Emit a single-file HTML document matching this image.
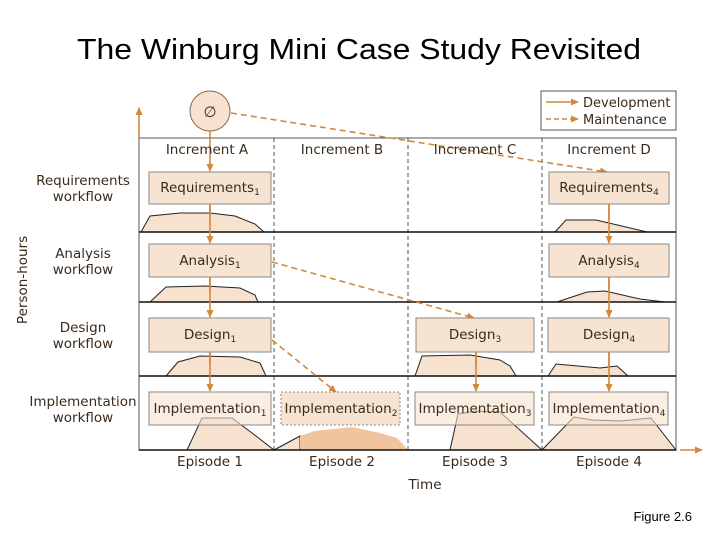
<!DOCTYPE html>
<html><head><meta charset="utf-8"><style>
body{margin:0;background:#fff;width:720px;height:540px;overflow:hidden}
svg text{font-family:"DejaVu Sans","Liberation Sans",sans-serif;fill:#3a2a1a}
</style></head><body>
<svg width="720" height="540" viewBox="0 0 720 540" xmlns="http://www.w3.org/2000/svg">
<defs>
<marker id="ah" markerWidth="8" markerHeight="8" refX="7" refY="4" orient="auto" markerUnits="userSpaceOnUse"><path d="M0,0.5 L8,4 L0,7.5 Z" fill="#d4883a"/></marker>
</defs>
<text x="77" y="59" textLength="564" lengthAdjust="spacingAndGlyphs" style="font-family:'Liberation Sans',sans-serif;font-size:29px;fill:#000">The Winburg Mini Case Study Revisited</text>
<text x="692" y="521" text-anchor="end" style="font-family:'Liberation Sans',sans-serif;font-size:13px;fill:#000">Figure 2.6</text>

<!-- legend -->
<rect x="541" y="91" width="135" height="39" fill="#fff" stroke="#555"/>
<line x1="546" y1="102" x2="578" y2="102" stroke="#d4883a" stroke-width="1.6" marker-end="url(#ah)"/>
<line x1="546" y1="119" x2="578" y2="119" stroke="#d4883a" stroke-width="1.6" stroke-dasharray="5,3" marker-end="url(#ah)"/>
<text x="583" y="107" font-size="13">Development</text>
<text x="583" y="124" font-size="13">Maintenance</text>

<!-- frame -->
<rect x="139" y="138" width="537" height="312" fill="#fff" stroke="#555"/>
<g stroke="#555" stroke-dasharray="4,3"><line x1="274" y1="138" x2="274" y2="450"/><line x1="408" y1="138" x2="408" y2="450"/><line x1="542" y1="138" x2="542" y2="450"/></g>

<!-- curves -->
<g fill="#f7e1cf" stroke="#222" stroke-width="1">
<polygon points="141,232 150,216 180,213 210,213 235,216 255,224 264,232"/>
<polygon points="150,302 166,287 205,286 240,288 255,295 258,302"/>
<polygon points="166,376 178,362 200,356 240,357 260,363 266,376"/>
<polygon points="187,450 202,418 232,418 252,433 274,450"/>
<polygon points="415,376 422,356 470,355 500,360 510,366 516,376"/>
<polygon points="548,376 556,364 600,368 617,366 628,376"/>
<polygon points="557,302 587,292 605,291 640,299 665,302"/>
<polygon points="555,232 566,220 596,220 626,227 647,232"/>
<polygon points="274,450 300,436 300,450"/>
<polygon points="450,450 458,414 476,411 500,412 542,450"/>
<polygon points="542,450 574,417 592,420 620,421 651,418 676,450"/>
</g>
<path d="M300,450 L300,436 L315,431 L352,427 L380,433 L397,438 L408,450 Z" fill="#f0c49c"/>

<!-- row lines -->
<g stroke="#111" stroke-width="1.6"><line x1="139" y1="232" x2="676" y2="232"/><line x1="139" y1="302" x2="676" y2="302"/><line x1="139" y1="376" x2="676" y2="376"/><line x1="139" y1="450" x2="676" y2="450"/></g>

<!-- axes arrows -->
<line x1="139" y1="138" x2="139" y2="108" stroke="#d4883a" stroke-width="1.6" marker-end="url(#ah)"/>
<line x1="680" y1="450" x2="702" y2="450" stroke="#d4883a" stroke-width="1.6" marker-end="url(#ah)"/>

<!-- development arrows -->
<g stroke="#d4883a" stroke-width="1.6" marker-end="url(#ah)">
<line x1="210" y1="131" x2="210" y2="171"/>
<line x1="210" y1="204" x2="210" y2="243"/>
<line x1="210" y1="277" x2="210" y2="317"/>
<line x1="210" y1="352" x2="210" y2="391"/>
<line x1="476" y1="352" x2="476" y2="391"/>
<line x1="609" y1="204" x2="609" y2="243"/>
<line x1="609" y1="277" x2="609" y2="317"/>
<line x1="609" y1="352" x2="609" y2="391"/>
</g>
<g stroke="#d4883a" stroke-width="1.6" stroke-dasharray="6,4" marker-end="url(#ah)" fill="none">
<line x1="231" y1="113" x2="607" y2="172"/>
<line x1="272" y1="262" x2="474" y2="318"/>
<line x1="272" y1="340" x2="336" y2="392"/>
</g>

<!-- circle -->
<circle cx="210" cy="111" r="20" fill="#f7e1cf" stroke="#8a6a50"/>
<text x="210" y="117" text-anchor="middle" font-size="15">∅</text>

<!-- headers -->
<g font-size="13.5" text-anchor="middle">
<text x="207" y="154">Increment A</text><text x="342" y="154">Increment B</text>
<text x="475" y="154">Increment C</text><text x="609" y="154">Increment D</text>
<text x="210" y="466">Episode 1</text><text x="342" y="466">Episode 2</text>
<text x="475" y="466">Episode 3</text><text x="609" y="466">Episode 4</text>
<text x="425" y="489">Time</text>
<text x="83" y="185">Requirements</text><text x="83" y="201">workflow</text>
<text x="83" y="258">Analysis</text><text x="83" y="274">workflow</text>
<text x="83" y="332">Design</text><text x="83" y="348">workflow</text>
<text x="83" y="406">Implementation</text><text x="83" y="422">workflow</text>
</g>
<text transform="translate(27,280) rotate(-90)" text-anchor="middle" font-size="13.5">Person-hours</text>

<!-- boxes -->
<g fill="#f7e1cf" stroke="#888" fill-opacity="0.95">
<rect x="149" y="172" width="122" height="32"/>
<rect x="149" y="244" width="122" height="33"/>
<rect x="149" y="318" width="122" height="34"/>
<rect x="149" y="392" width="122" height="33" fill-opacity="0.6"/>
<rect x="281" y="392" width="119" height="33" stroke-dasharray="2,2"/>
<rect x="415" y="392" width="119" height="33" fill-opacity="0.6"/>
<rect x="549" y="392" width="119" height="33" fill-opacity="0.6"/>
<rect x="416" y="318" width="118" height="34"/>
<rect x="548" y="318" width="121" height="34"/>
<rect x="549" y="244" width="120" height="33"/>
<rect x="549" y="172" width="120" height="32"/>
</g>
<g stroke="#d4883a" stroke-width="1.6"><line x1="210" y1="204" x2="210" y2="216"/><line x1="210" y1="277" x2="210" y2="290"/><line x1="210" y1="352" x2="210" y2="364"/><line x1="476" y1="352" x2="476" y2="366"/><line x1="609" y1="204" x2="609" y2="220"/><line x1="609" y1="277" x2="609" y2="292"/><line x1="609" y1="352" x2="609" y2="367"/></g>
<g font-size="13.5" text-anchor="middle">
<text x="210" y="192">Requirements<tspan font-size="9" dy="3">1</tspan></text>
<text x="210" y="265">Analysis<tspan font-size="9" dy="3">1</tspan></text>
<text x="210" y="339">Design<tspan font-size="9" dy="3">1</tspan></text>
<text x="210" y="413">Implementation<tspan font-size="9" dy="3">1</tspan></text>
<text x="341" y="413">Implementation<tspan font-size="9" dy="3">2</tspan></text>
<text x="475" y="413">Implementation<tspan font-size="9" dy="3">3</tspan></text>
<text x="609" y="413">Implementation<tspan font-size="9" dy="3">4</tspan></text>
<text x="475" y="339">Design<tspan font-size="9" dy="3">3</tspan></text>
<text x="609" y="339">Design<tspan font-size="9" dy="3">4</tspan></text>
<text x="609" y="265">Analysis<tspan font-size="9" dy="3">4</tspan></text>
<text x="609" y="192">Requirements<tspan font-size="9" dy="3">4</tspan></text>
</g>
</svg>
</body></html>
